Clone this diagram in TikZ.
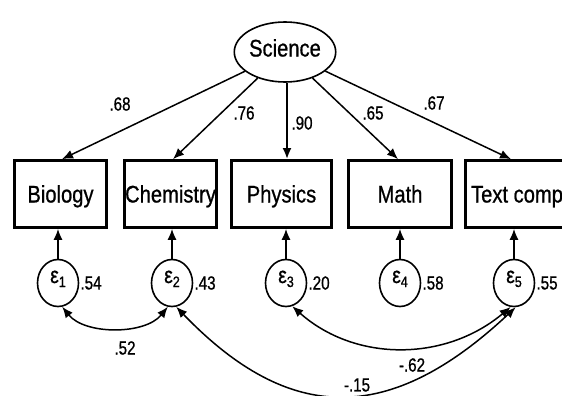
\documentclass[tikz,border=0pt]{standalone}
\usepackage{fontspec}
\usepackage{graphicx}
\newfontfamily\lbl{Liberation Sans}[FakeStretch=0.84,FakeBold=0.8]
\newfontfamily\nlbl{Liberation Sans}[FakeStretch=0.8,FakeBold=0.8]
\usetikzlibrary{arrows.meta,shapes.geometric}
\begin{document}
\begin{tikzpicture}[x=1pt,y=-1pt,
  box/.style={draw, line width=2.7pt, minimum width=92pt, minimum height=67pt, inner sep=0pt,
    text height=17pt, text depth=0pt, font=\lbl\fontsize{24}{26}\selectfont},
  lat/.style={draw, ellipse, line width=1.6pt, minimum width=92pt, minimum height=60pt, inner sep=0pt,
    text height=17pt, text depth=8pt, font=\lbl\fontsize{24}{26}\selectfont},
  err/.style={draw, ellipse, line width=1.6pt, minimum width=41pt, minimum height=47pt, inner sep=0pt,
    text height=12pt, text depth=12pt, font=\lbl\fontsize{23}{25}\selectfont},
  num/.style={font=\nlbl\fontsize{19}{21}\selectfont, inner sep=0pt},
  arr/.style={-{Latex[length=11pt,width=9pt]}, line width=1.5pt},
  dbl/.style={{Latex[length=11pt,width=9pt]}-{Latex[length=11pt,width=9pt]}, line width=1.5pt},
]
\useasboundingbox (0,0) rectangle (562,396);
\fill[white] (0,0) rectangle (562,396);
\clip (0,0) rectangle (562,396);

\node[lat] (sci) at (285,52) {Science};

\node[box] (bio) at (60.5,194) {Biology};
\node[box] (chem) at (170.5,194) {Chemistry};
\node[box, minimum width=100pt] (phys) at (281.5,194) {Physics};
\node[box, minimum width=103pt] (math) at (400,194) {Math};
\node[box, minimum width=103pt] (txt) at (517,194) {Text comp};

\newcommand{\eps}[1]{ε\raisebox{-4pt}{\fontsize{15}{15}\selectfont #1}}
\node[err] (e1) at (58,283) {\eps{1}};
\node[err] (e2) at (172,283) {\eps{2}};
\node[err] (e3) at (286,283) {\eps{3}};
\node[err] (e4) at (400,283) {\eps{4}};
\node[err] (e5) at (514,283) {\eps{5}};

% loadings
\draw[arr] (sci) -- ([xshift=1.5pt]bio.north);
\draw[arr] (sci) -- ([xshift=2.5pt]chem.north);
\draw[arr, line width=2.4pt] (sci.south -| 287,0) -- ([xshift=5.5pt]phys.north);
\draw[arr] (sci) -- ([xshift=-2pt]math.north);
\draw[arr] (sci) -- ([xshift=-6pt]txt.north);

\node[num] (l1) at (120,104) {.68};
\node[num] (l2) at (244,113) {.76};
\node[num] (l3) at (302,123) {.90};
\node[num] (l4) at (373,113) {.65};
\node[num] (l5) at (434,103) {.67};

% errors to indicators
\draw[arr] (e1.north) -- (e1.north |- bio.south);
\draw[arr] (e2.north) -- (e2.north |- chem.south);
\draw[arr] (e3.north) -- (e3.north |- phys.south);
\draw[arr] (e4.north) -- (e4.north |- math.south);
\draw[arr] (e5.north) -- (e5.north |- txt.south);

% variances
\node[num, anchor=west] (v1) at ([xshift=1pt]e1.east) {.54};
\node[num, anchor=west] (v2) at ([xshift=1pt]e2.east) {.43};
\node[num, anchor=west] (v3) at ([xshift=1pt]e3.east) {.20};
\node[num, anchor=west] (v4) at ([xshift=1pt]e4.east) {.58};
\node[num, anchor=west] (v5) at ([xshift=1pt]e5.east) {.55};

% covariances
\draw[dbl] (e1.-80) .. controls (85,335) and (145,335) .. (e2.-100);
\draw[dbl] (e3.-75) .. controls (355,362) and (445,362) .. (e5.-98);
\draw[dbl] (e2.-80) .. controls (290,425) and (390,425) .. (e5.-86);

\node[num] (c1) at (125,348) {.52};
\node[num] (c2) at (412,365) {-.62};
\node[num] (c3) at (357,385) {-.15};
\end{tikzpicture}
\end{document}
